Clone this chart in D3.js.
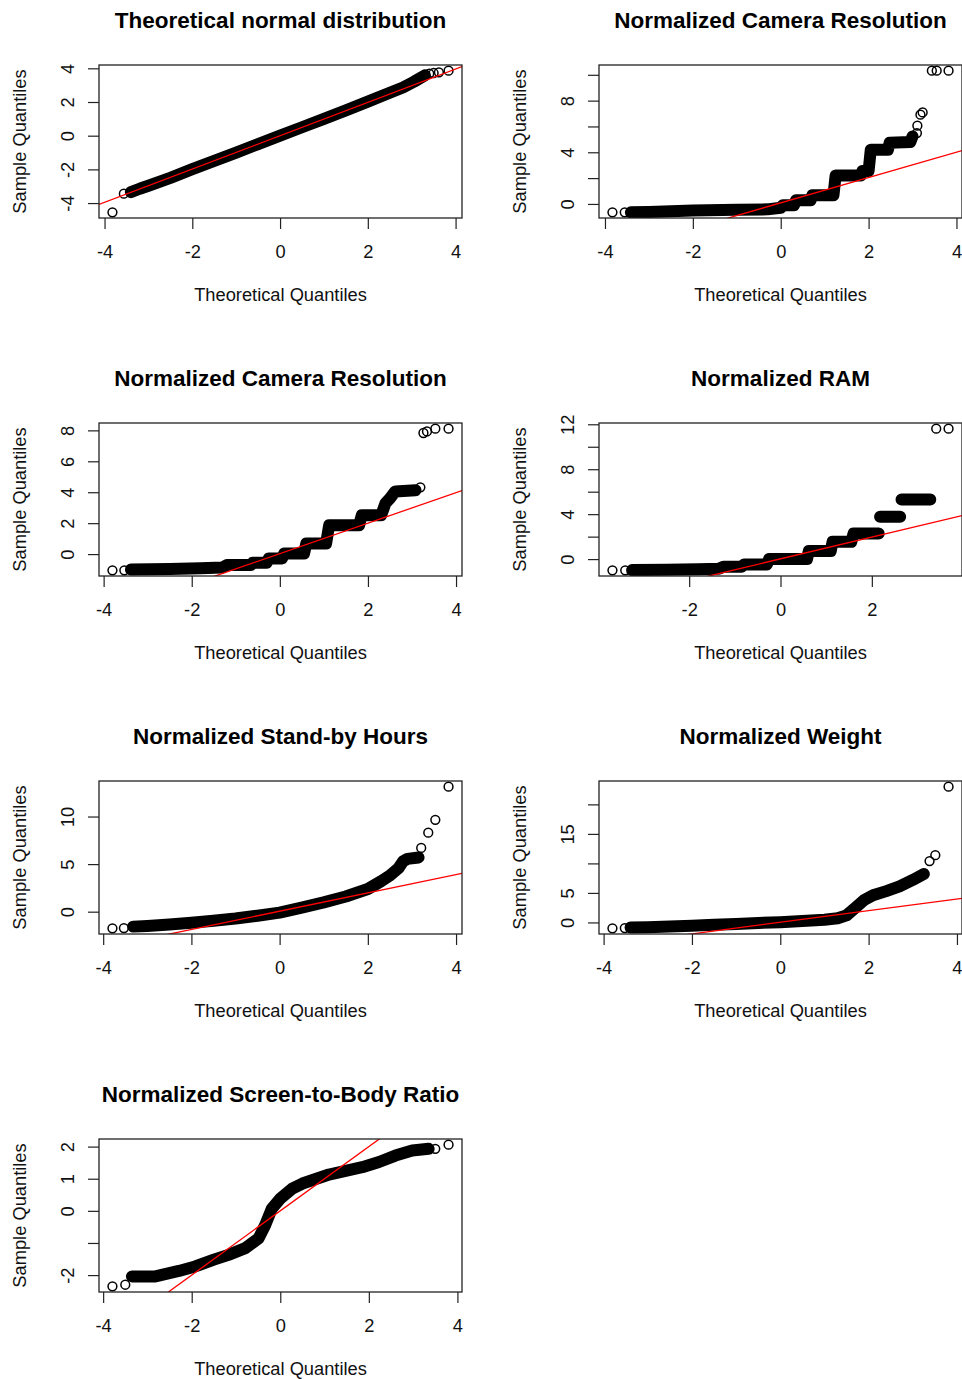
<!DOCTYPE html>
<html>
<head>
<meta charset="utf-8">
<script src="https://cdn.jsdelivr.net/npm/d3@7/dist/d3.min.js"></script>
<style>
  body { margin: 0; background: #fff; }
  text { font-family: "Liberation Sans", Arial, Helvetica, sans-serif; fill: #111; }
</style>
</head>
<body>
<div id="chart"></div>
<script>
// titles of the seven Q-Q panels, left to right, top to bottom
const titles = ["Theoretical normal distribution", "Normalized Camera Resolution",
  "Normalized Camera Resolution", "Normalized RAM", "Normalized Stand-by Hours",
  "Normalized Weight", "Normalized Screen-to-Body Ratio"];

const xTicks = [-4, -2, 0, 2, 4];
const xTickLabels = ["-4", "-2", "0", "2", "4"];

// [theoretical, sample] pairs. "band" = the dense overplotted run
// (null breaks it), "points" = the separate circles at the tails
const normalBand = [[-3.4,-3.35],[-3.2,-3.15],[-3.0,-2.97],[-2.5,-2.5],[-2.0,-1.99],[-1.5,-1.5],[-1.0,-1.0],[-0.5,-0.5],[0,0],[0.5,0.5],[1.0,1.0],[1.5,1.5],[2.0,2.02],[2.5,2.55],[2.8,2.86],[3.05,3.2],[3.3,3.58]];
const normalPoints = [[-3.82,-4.55],[-3.56,-3.44],[3.4,3.68],[3.5,3.72],[3.62,3.76],[3.84,3.86]];
const normalYTicks = [-4, -2, 0, 2, 4];
const normalYLabels = ["-4", "-2", "0", "2", "4"];
const normalLine = [0, 0.99];

const cameraBand = [[-3.41,-0.65],[-3.0,-0.62],[-2.0,-0.5],[-1.0,-0.45],[-0.3,-0.42],[0.0,-0.3],[0.05,-0.1],[0.3,-0.1],[0.35,0.28],[0.68,0.28],[0.72,0.67],[1.2,0.67],[1.25,2.21],[1.82,2.21],[1.86,2.55],[2.0,2.55],[2.05,4.2],[2.44,4.2],[2.48,4.74],[2.95,4.8],[3.0,5.23]];
const cameraPoints = [[-3.83,-0.65],[-3.55,-0.65],[3.1,5.49],[3.11,6.06],[3.18,6.91],[3.23,7.09],[3.44,10.32],[3.55,10.32],[3.82,10.32]];
const cameraYTicks = [0, 2, 4, 6, 8, 10];
const cameraYLabels = ["0", "", "4", "", "8", ""];
const cameraLine = [0.08, 0.98];

const camera2Band = [[-3.38,-1.0],[-2.5,-0.97],[-1.8,-0.92],[-1.3,-0.87],[-1.2,-0.71],[-0.66,-0.71],[-0.62,-0.56],[-0.3,-0.56],[-0.25,-0.28],[0.05,-0.28],[0.1,0.04],[0.55,0.04],[0.6,0.69],[1.05,0.69],[1.12,1.87],[1.8,1.87],[1.86,2.51],[2.3,2.51],[2.4,3.3],[2.5,3.6],[2.62,4.05],[3.08,4.13]];
const camera2Points = [[-3.80,-1.05],[-3.53,-1.05],[3.19,4.32],[3.26,7.83],[3.34,7.93],[3.53,8.11],[3.83,8.11]];
const camera2YTicks = [0, 2, 4, 6, 8];
const camera2YLabels = ["0", "2", "4", "6", "8"];
const camera2Line = [0.03, 0.985];

const ramBand = [[-3.25,-0.98],[-2.5,-0.95],[-1.8,-0.9],[-1.35,-0.86],[-1.25,-0.68],[-0.85,-0.68],[-0.8,-0.48],[-0.3,-0.48],[-0.25,0.0],[0.58,0.0],[0.62,0.71],[1.1,0.71],[1.14,1.54],[1.55,1.54],[1.6,2.28],[2.15,2.28],null,[2.18,3.76],[2.62,3.76],null,[2.65,5.3],[3.28,5.3]];
const ramPoints = [[-3.68,-1.0],[-3.4,-1.0],[3.41,11.61],[3.68,11.61]];
const ramYTicks = [0, 2, 4, 6, 8, 10, 12];
const ramYLabels = ["0", "", "4", "", "8", "", "12"];
const ramLine = [0.02, 0.97];

const standbyBand = [[-3.32,-1.57],[-3.0,-1.5],[-2.5,-1.35],[-2.0,-1.17],[-1.5,-0.95],[-1.0,-0.72],[-0.5,-0.42],[0,-0.1],[0.5,0.42],[1.0,0.98],[1.5,1.6],[2.0,2.38],[2.3,3.2],[2.5,3.8],[2.7,4.6],[2.8,5.3],[2.9,5.55],[3.15,5.7]];
const standbyPoints = [[-3.79,-1.75],[-3.53,-1.72],[3.21,6.7],[3.37,8.3],[3.53,9.65],[3.83,13.14]];
const standbyYTicks = [0, 5, 10];
const standbyYLabels = ["0", "5", "10"];
const standbyLine = [0.05, 0.96];

const weightBand = [[-3.39,-0.84],[-3.0,-0.8],[-2.5,-0.7],[-2.0,-0.55],[-1.5,-0.4],[-1.0,-0.25],[-0.5,-0.1],[0,0.05],[0.5,0.25],[1.0,0.45],[1.3,0.7],[1.5,1.2],[1.7,2.5],[1.9,3.8],[2.1,4.6],[2.4,5.3],[2.7,6.1],[3.0,7.2],[3.25,8.2]];
const weightPoints = [[-3.80,-1.0],[-3.52,-0.95],[3.38,10.4],[3.51,11.4],[3.81,23.0]];
const weightYTicks = [0, 5, 10, 15, 20];
const weightYLabels = ["0", "5", "", "15", ""];
const weightLine = [0.02, 0.984];

const screenBand = [[-3.35,-2.04],[-2.82,-2.04],[-2.29,-1.87],[-1.92,-1.73],[-1.5,-1.52],[-1.17,-1.37],[-0.79,-1.16],[-0.49,-0.86],[-0.34,-0.44],[-0.19,0.07],[0.0,0.38],[0.27,0.69],[0.5,0.85],[1.1,1.13],[1.85,1.36],[2.23,1.52],[2.6,1.72],[2.98,1.88],[3.35,1.93]];
const screenPoints = [[-3.79,-2.35],[-3.50,-2.30],[3.50,1.93],[3.80,2.06]];
const screenYTicks = [-2, -1, 0, 1, 2];
const screenYLabels = ["-2", "", "0", "1", "2"];
const screenLine = [0, 1.0];

const panels = [
  {band: normalBand, points: normalPoints, yTicks: normalYTicks, yLabels: normalYLabels, line: normalLine},
  {band: cameraBand, points: cameraPoints, yTicks: cameraYTicks, yLabels: cameraYLabels, line: cameraLine},
  {band: camera2Band, points: camera2Points, yTicks: camera2YTicks, yLabels: camera2YLabels, line: camera2Line},
  {band: ramBand, points: ramPoints, yTicks: ramYTicks, yLabels: ramYLabels, line: ramLine},
  {band: standbyBand, points: standbyPoints, yTicks: standbyYTicks, yLabels: standbyYLabels, line: standbyLine},
  {band: weightBand, points: weightPoints, yTicks: weightYTicks, yLabels: weightYLabels, line: weightLine},
  {band: screenBand, points: screenPoints, yTicks: screenYTicks, yLabels: screenYLabels, line: screenLine}
];

const width = 962, height = 1379;
const colW = 500, rowH = 358;
const box = {left: 99, top: 65, w: 363, h: 153};

const svg = d3.select("#chart").append("svg")
  .attr("width", width)
  .attr("height", height)
  .style("display", "block");

// R style range: data extent widened by 4% each side
function pad(ext) {
  const r = ext[1] - ext[0];
  return [ext[0] - 0.04 * r, ext[1] + 0.04 * r];
}

panels.forEach(function(p, i) {
  const col = i % 2, row = Math.floor(i / 2);
  const g = svg.append("g")
    .attr("transform", "translate(" + (col * colW + box.left) + "," + (row * rowH + box.top) + ")");

  const all = p.band.filter(d => d).concat(p.points);
  const x = d3.scaleLinear().domain(pad(d3.extent(all, d => d[0]))).range([0, box.w]);
  const y = d3.scaleLinear().domain(pad(d3.extent(all, d => d[1]))).range([box.h, 0]);

  g.append("clipPath").attr("id", "clip" + i)
    .append("rect").attr("width", box.w).attr("height", box.h);

  const plot = g.append("g").attr("clip-path", "url(#clip" + i + ")");

  const band = d3.line()
    .defined(d => d !== null)
    .x(d => x(d[0]))
    .y(d => y(d[1]));

  plot.append("path")
    .datum(p.band)
    .attr("d", band)
    .attr("fill", "none")
    .attr("stroke", "#000")
    .attr("stroke-width", 12)
    .attr("stroke-linecap", "round")
    .attr("stroke-linejoin", "round");

  plot.selectAll("circle")
    .data(p.points)
    .enter()
    .append("circle")
    .attr("cx", d => x(d[0]))
    .attr("cy", d => y(d[1]))
    .attr("r", 4.4)
    .attr("fill", "none")
    .attr("stroke", "#000")
    .attr("stroke-width", 1.5);

  // qqline
  const xs = x.domain();
  plot.append("path")
    .datum(xs.map(v => [v, p.line[0] + p.line[1] * v]))
    .attr("d", d3.line().x(d => x(d[0])).y(d => y(d[1])))
    .attr("fill", "none")
    .attr("stroke", "#ff0000")
    .attr("stroke-width", 1.3);

  g.append("rect")
    .attr("width", box.w)
    .attr("height", box.h)
    .attr("fill", "none")
    .attr("stroke", "#222")
    .attr("stroke-width", 1.3);

  // x axis
  const xt = xTicks.filter(v => v >= xs[0] && v <= xs[1]);
  const xAxis = g.append("g")
    .attr("transform", "translate(0," + box.h + ")")
    .call(d3.axisBottom(x).tickValues(xt).tickSize(11).tickPadding(16)
      .tickFormat(v => xTickLabels[xTicks.indexOf(v)]));
  xAxis.select(".domain").remove();
  xAxis.selectAll("line").attr("stroke", "#222").attr("stroke-width", 1.2);
  xAxis.selectAll("text").style("font-size", "18.3px").style("font-family", null).attr("fill", "#111");

  // y axis with labels turned like R's default
  const ys = y.domain();
  const yt = p.yTicks.filter(v => v >= ys[0] && v <= ys[1]);
  const yAxis = g.append("g")
    .call(d3.axisLeft(y).tickValues(yt).tickSize(11)
      .tickFormat(v => p.yLabels[p.yTicks.indexOf(v)]));
  yAxis.select(".domain").remove();
  yAxis.selectAll("line").attr("stroke", "#222").attr("stroke-width", 1.2);
  yAxis.selectAll("text")
    .attr("x", 0).attr("y", 0).attr("dy", 0)
    .attr("transform", "translate(-25,0) rotate(-90)")
    .attr("text-anchor", "middle")
    .style("font-size", "18.3px").style("font-family", null).attr("fill", "#111");

  g.append("text")
    .attr("x", box.w / 2)
    .attr("y", -37)
    .attr("text-anchor", "middle")
    .style("font-size", "22.5px")
    .style("font-weight", "bold")
    .style("fill", "#000")
    .text(titles[i]);

  g.append("text")
    .attr("x", box.w / 2)
    .attr("y", box.h + 83)
    .attr("text-anchor", "middle")
    .style("font-size", "18.3px")
    .text("Theoretical Quantiles");

  g.append("text")
    .attr("transform", "translate(-73," + (box.h / 2) + ") rotate(-90)")
    .attr("text-anchor", "middle")
    .style("font-size", "18.3px")
    .text("Sample Quantiles");
});
</script>
</body>
</html>
